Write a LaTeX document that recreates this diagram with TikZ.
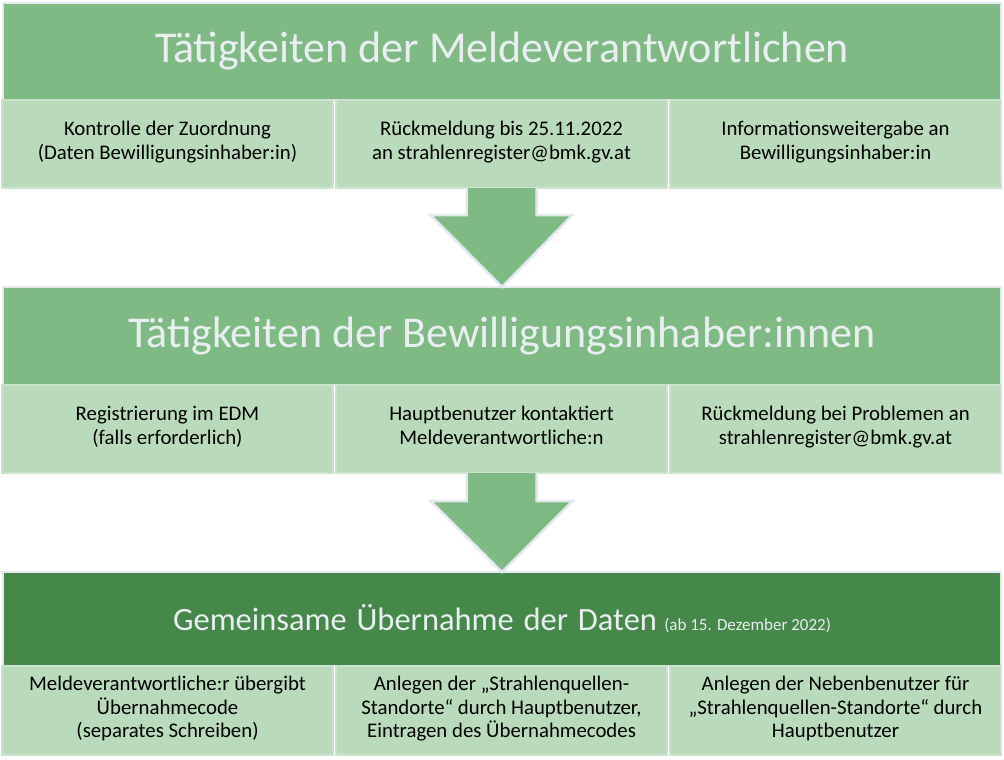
\documentclass[tikz,border=0pt]{standalone}
\usepackage{fontspec}
\setmainfont{Carlito}
\usetikzlibrary{calc}
\definecolor{hdr}{RGB}{127,186,132}
\definecolor{hdrdark}{RGB}{70,135,74}
\definecolor{subfill}{RGB}{186,218,188}
\definecolor{subedge}{RGB}{204,228,206}
\definecolor{edge}{RGB}{226,234,239}
\definecolor{htext}{RGB}{233,239,241}
\begin{document}
\begin{tikzpicture}[x=1pt,y=-1pt,
  header/.style={draw=edge, line width=2.5pt, fill=hdr, anchor=north west,
    minimum width=998pt, inner sep=0pt, outer sep=0pt, text=htext},
  subbox/.style={draw=subedge, line width=1.5pt, fill=subfill, anchor=north west,
    minimum width=331pt, minimum height=88pt, inner sep=0pt, outer sep=0pt,
    align=center, font=\fontsize{20.8}{24.5}\selectfont, text=black,
    execute at begin node={\rule{0pt}{23pt}}, execute at end node={\strut}},
  subthree/.style={subbox, minimum height=89pt, font=\fontsize{20.8}{23.3}\selectfont,
    execute at begin node={\rule{0pt}{25pt}}},
  bigarrow/.style={fill=hdr, draw=edge, line width=2.5pt, line join=miter}]
\fill[white] (0,0) rectangle (1004,760);
% Section 1
\node[header, minimum height=97pt, font=\fontsize{44}{50}\selectfont] (h1) at (3,3) {Tätigkeiten der Meldeverantwortlichen};
\node[subbox] (s1a) at (2,100) {Kontrolle der Zuordnung\\(Daten Bewilligungsinhaber:in)};
\node[subbox] (s1b) at (336,100) {Rückmeldung bis 25.11.2022\\an strahlenregister@bmk.gv.at};
\node[subbox] (s1c) at (670,100) {Informationsweitergabe an\\Bewilligungsinhaber:in};
% Section 2
\node[header, minimum height=98pt, font=\fontsize{44}{50}\selectfont] (h2) at (3,287) {Tätigkeiten der Bewilligungsinhaber:innen};
\node[subbox] (s2a) at (2,385) {Registrierung im EDM\\(falls erforderlich)};
\node[subbox] (s2b) at (336,385) {Hauptbenutzer kontaktiert\\Meldeverantwortliche:n};
\node[subbox] (s2c) at (670,385) {Rückmeldung bei Problemen an\\strahlenregister@bmk.gv.at};
% Section 3
\node[header, fill=hdrdark, minimum height=94pt, font=\fontsize{32.5}{36}\selectfont] (h3) at (3,572)
  {Gemeinsame\hspace{0.3em}Übernahme\hspace{0.3em}der\hspace{0.3em}Daten {\fontsize{17}{19}\selectfont(ab 15. Dezember 2022)}};
\node[subthree] (s3a) at (2,666) {Meldeverantwortliche:r übergibt\\Übernahmecode\\(separates Schreiben)};
\node[subthree] (s3b) at (336,666) {Anlegen der „Strahlenquellen-\\Standorte“ durch Hauptbenutzer,\\Eintragen des Übernahmecodes};
\node[subthree] (s3c) at (670,666) {Anlegen der Nebenbenutzer für\\„Strahlenquellen-Standorte“ durch\\Hauptbenutzer};
% Arrows
\draw[bigarrow] ($(s1b.south)+(-35,0)$) -- ++(0,27) -- ++(-36,0) -- (h2.north) -- ($(s1b.south)+(71,27)$) -- ++(-36,0) -- ($(s1b.south)+(35,0)$);
\draw[bigarrow] ($(s2b.south)+(-35,0)$) -- ++(0,28) -- ++(-36,0) -- (h3.north) -- ($(s2b.south)+(71,28)$) -- ++(-36,0) -- ($(s2b.south)+(35,0)$);
\end{tikzpicture}
\end{document}
